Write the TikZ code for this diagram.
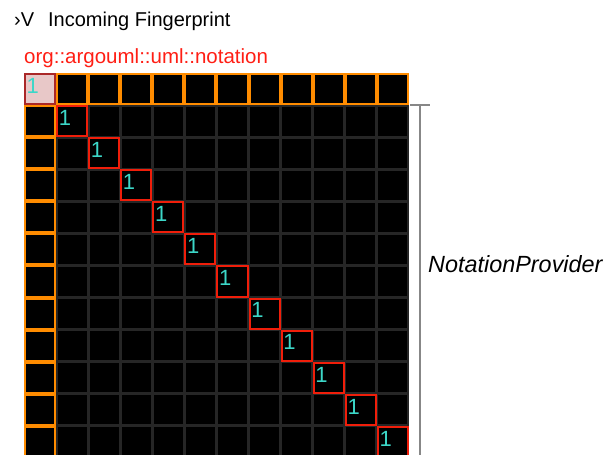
\documentclass[tikz,border=0pt]{standalone}
\usepackage{fontspec}
\setmainfont{Liberation Sans}
\definecolor{edgeorange}{RGB}{255,140,0}
\definecolor{hitred}{RGB}{240,30,10}
\definecolor{cellgray}{RGB}{38,38,38}
\definecolor{countcyan}{RGB}{60,215,200}
\definecolor{selpink}{RGB}{232,200,200}
\definecolor{seldark}{RGB}{170,40,40}
\definecolor{pkgred}{RGB}{255,30,20}
\definecolor{bracegray}{RGB}{135,135,135}
\tikzset{
	cell/.style={draw=cellgray,fill=black,line width=1.5pt,minimum size=30.58pt,inner sep=0pt},
	edgecell/.style={draw=edgeorange,fill=black,line width=2pt,minimum size=30.08pt,inner sep=0pt},
	hitcell/.style={draw=hitred,fill=black,line width=2pt,minimum size=30.08pt,inner sep=0pt},
	selcell/.style={draw=seldark,fill=selpink,line width=2pt,minimum size=30.08pt,inner sep=0pt},
	count/.style={text=countcyan,font=\fontsize{22}{22}\selectfont,anchor=north west,inner sep=0pt,xshift=2.5pt,yshift=-5pt},
}
\begin{document}
\begin{tikzpicture}[x=1pt,y=-1pt]
	\useasboundingbox (0,0) rectangle (608,455);
	\clip (0,0) rectangle (608,455);
	\node[anchor=base west,inner sep=0pt,font=\fontsize{20}{20}\selectfont] (title) at (14,27) {›V\hspace{0.7em}Incoming Fingerprint};
	\node[anchor=base west,inner sep=0pt,text=pkgred,font=\fontsize{20.5}{20.5}\selectfont] (pkg) at (24,63) {org::argouml::uml::notation};
	% dependency matrix
	\foreach \r in {0,...,11}{
		\foreach \c in {0,...,11}{
			\ifnum\r=\c
				\ifnum\r=0 \def\cellstyle{selcell}\else\def\cellstyle{hitcell}\fi
			\else
				\ifnum\r=0 \def\cellstyle{edgecell}\else
					\ifnum\c=0 \def\cellstyle{edgecell}\else\def\cellstyle{cell}\fi
				\fi
			\fi
			\node[\cellstyle] (m-\r-\c) at ({40.04+32.08*\c},{89.04+32.08*\r}) {};
		}
	}
	\foreach \i in {0,...,11}
		\node[count] (n-\i) at (m-\i-\i.north west) {1};
	% bracket for the class
	\coordinate (brtop) at (420,105);
	\coordinate (brbot) at (420,460);
	\draw[bracegray,line width=2pt] (brtop) -- (brbot);
	\draw[bracegray,line width=2pt] ([xshift=-10pt]brtop) -- ([xshift=10pt]brtop);
	\node[anchor=base west,inner sep=0pt,font=\fontsize{23.4}{23.4}\selectfont\itshape] (cls) at (428,272) {NotationProvider};
\end{tikzpicture}
\end{document}
